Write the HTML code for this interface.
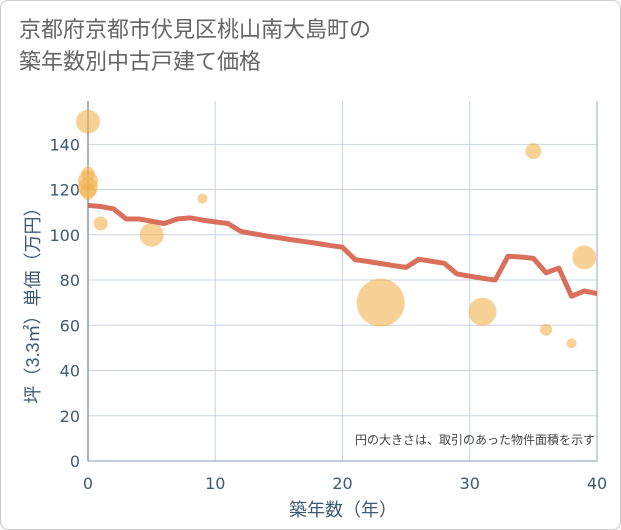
<!DOCTYPE html>
<html><head><meta charset="utf-8"><style>
html,body{margin:0;padding:0;background:#fff;}
#wrap{position:relative;width:619px;height:528px;border:1px solid #ccc;border-radius:8px;overflow:hidden;background:#fff;font-family:"Liberation Sans","Noto Sans CJK JP",sans-serif;}
#title{position:absolute;left:18px;top:13px;font-size:22px;line-height:32px;color:#666;}
svg{position:absolute;left:0;top:0;}
</style></head><body>
<div id="wrap">
<div id="title">京都府京都市伏見区桃山南大島町の<br>築年数別中古戸建て価格</div>
<svg id="chart" width="621" height="530"></svg>
</div>
<script>
const xTicks=[0,10,20,30,40];
const yTicks=[0,20,40,60,80,100,120,140];
const lineYears=[0,1,2,3,4,5,6,7,8,9,10,11,12,13,14,15,16,17,18,19,20,21,22,23,24,25,26,27,28,29,30,31,32,33,34,35,36,37,38,39,40];
const lineValues=[113,112.5,111.5,107,107,106,105,107,107.5,106.5,105.7,105,101.5,100.5,99.5,98.7,97.8,97,96.2,95.3,94.5,89,88.2,87.3,86.4,85.6,89.2,88.3,87.4,82.7,81.7,80.8,80,90.5,90.2,89.6,83.2,85.3,72.8,75.2,74];
const bubbleYears=[0,0,0,0,0,1,5,9,23,31,35,36,38,39];
const bubbleValues=[150,127,124,121,119,105,100,116,70,66,137,58,52,90];
const bubbleSizes=[12,7,10,10,8,7,12,5,24,14,8,6,5,12];
const NS='http://www.w3.org/2000/svg';
const svg=document.getElementById('chart');
const X0=87,X1=596,Y0=460,YPU=2.262;
const xs=v=>X0+(X1-X0)*v/40;
const ys=v=>Y0-v*YPU;
const TF='"DejaVu Sans","Liberation Sans",sans-serif';
function mk(t,a){const e=document.createElementNS(NS,t);for(const k in a)e.setAttribute(k,a[k]);svg.appendChild(e);return e;}
xTicks.forEach(t=>{
 const l=mk('line',{x1:xs(t),x2:xs(t),y1:100,y2:Y0,stroke:'#c8d4e0','stroke-width':1});
 
 
 const tx=mk('text',{x:xs(t),y:488,'text-anchor':'middle','font-size':16,fill:'#3d5a73','font-family':TF});
 tx.textContent=t;
 
 
});
yTicks.forEach(t=>{
 const l=mk('line',{x1:X0,x2:X1,y1:ys(t),y2:ys(t),stroke:'#c8d4e0','stroke-width':1});
 
 
 const tx=mk('text',{x:79,y:ys(t)+6,'text-anchor':'end','font-size':16,fill:'#3d5a73','font-family':TF});
 tx.textContent=t;
 
 
});
const ax=mk('line',{x1:X0,x2:X0,y1:100,y2:Y0,stroke:'#8899aa','stroke-width':1.5});


const ax2=mk('line',{x1:X0,x2:X1,y1:Y0,y2:Y0,stroke:'#8899aa','stroke-width':1});


const rb=mk('line',{x1:X1,x2:X1,y1:100,y2:Y0,stroke:'#9aa8b6','stroke-width':1});


bubbleYears.forEach((yr,i)=>{
 const c=mk('circle',{cx:xs(yr),cy:ys(bubbleValues[i]),r:bubbleSizes[i],fill:'#f2b34f','fill-opacity':0.6});
 
 
});
const pts=lineYears.map((y,i)=>xs(y)+','+ys(lineValues[i])).join(' ');
const pl=mk('polyline',{points:pts,fill:'none',stroke:'#d4614a','stroke-opacity':0.9,'stroke-width':5,'stroke-linejoin':'round'});


const note=mk('text',{x:594,y:443,'text-anchor':'end','font-size':12,fill:'#444'});
note.textContent='円の大きさは、取引のあった物件面積を示す';


const xt=mk('text',{x:342,y:515,'text-anchor':'middle','font-size':18,fill:'#3d5a73'});
xt.textContent='築年数（年）';


const yt=mk('text',{x:0,y:0,'text-anchor':'middle','font-size':18,fill:'#3d5a73',transform:'translate(38,300) rotate(-90)'});
yt.textContent='坪（3.3㎡）単価（万円）';


</script>
</body></html>
